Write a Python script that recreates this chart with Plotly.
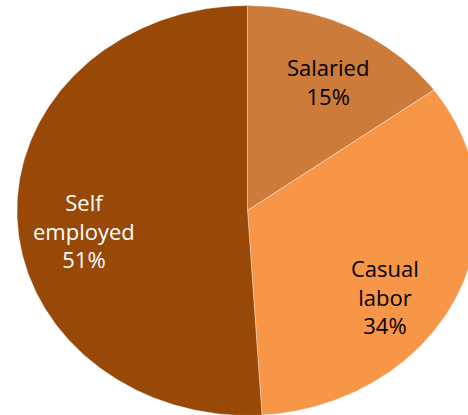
import numpy as np
import plotly.graph_objects as go

# Employment shares (percent), clockwise from 12 o'clock
categories = ["Salaried", "Casual labor", "Self employed"]
shares = [15, 34, 51]
label_text = ["Salaried<br>15%", "Casual<br>labor<br>34%", "Self<br>employed<br>51%"]

colors = ["#CC7B3B", "#F79646", "#984807"]
text_colors = ["#000000", "#000000", "#FFFFFF"]
# small angular nudges (degrees) and radial fractions for label placement
label_nudge = [2, 10, -6]
label_radius = [0.72, 0.73, 0.715]

W, H = 468, 415
cx_px, cy_px = 247.5, 210.5   # pie centre in pixels
rx_px, ry_px = 230.5, 205.0   # horizontal / vertical radius in pixels

fig = go.Figure()

total = float(sum(shares))
start = 0.0
for name, val, col in zip(categories, shares, colors):
    a0 = start / total * 2 * np.pi
    a1 = (start + val) / total * 2 * np.pi
    theta = np.linspace(a0, a1, 240)
    xs = np.concatenate([[0.0], np.sin(theta), [0.0]])
    ys = np.concatenate([[0.0], np.cos(theta), [0.0]])
    fig.add_trace(go.Scatter(
        x=xs, y=ys, mode="lines", fill="toself", fillcolor=col,
        line=dict(color="rgba(255,255,255,0.6)", width=0.6),
        name=name, hoverinfo="name", showlegend=False,
    ))
    start += val

# slice labels placed along each slice's mid angle
start = 0.0
for val, txt, tc, nudge, rad in zip(shares, label_text, text_colors, label_nudge, label_radius):
    mid = (start + val / 2) / total * 2 * np.pi + np.radians(nudge)
    fig.add_annotation(
        x=rad * np.sin(mid), y=rad * np.cos(mid),
        xref="x", yref="y", text=txt, showarrow=False,
        font=dict(family="Open Sans", size=22, color=tc), align="center",
    )
    start += val

fig.update_xaxes(range=[-cx_px / rx_px, (W - cx_px) / rx_px], visible=False, fixedrange=True)
fig.update_yaxes(range=[-(H - cy_px) / ry_px, cy_px / ry_px], visible=False, fixedrange=True)
fig.update_layout(
    width=W, height=H, margin=dict(l=0, r=0, t=0, b=0),
    paper_bgcolor="white", plot_bgcolor="white",
)

fig.write_html("out.html")
